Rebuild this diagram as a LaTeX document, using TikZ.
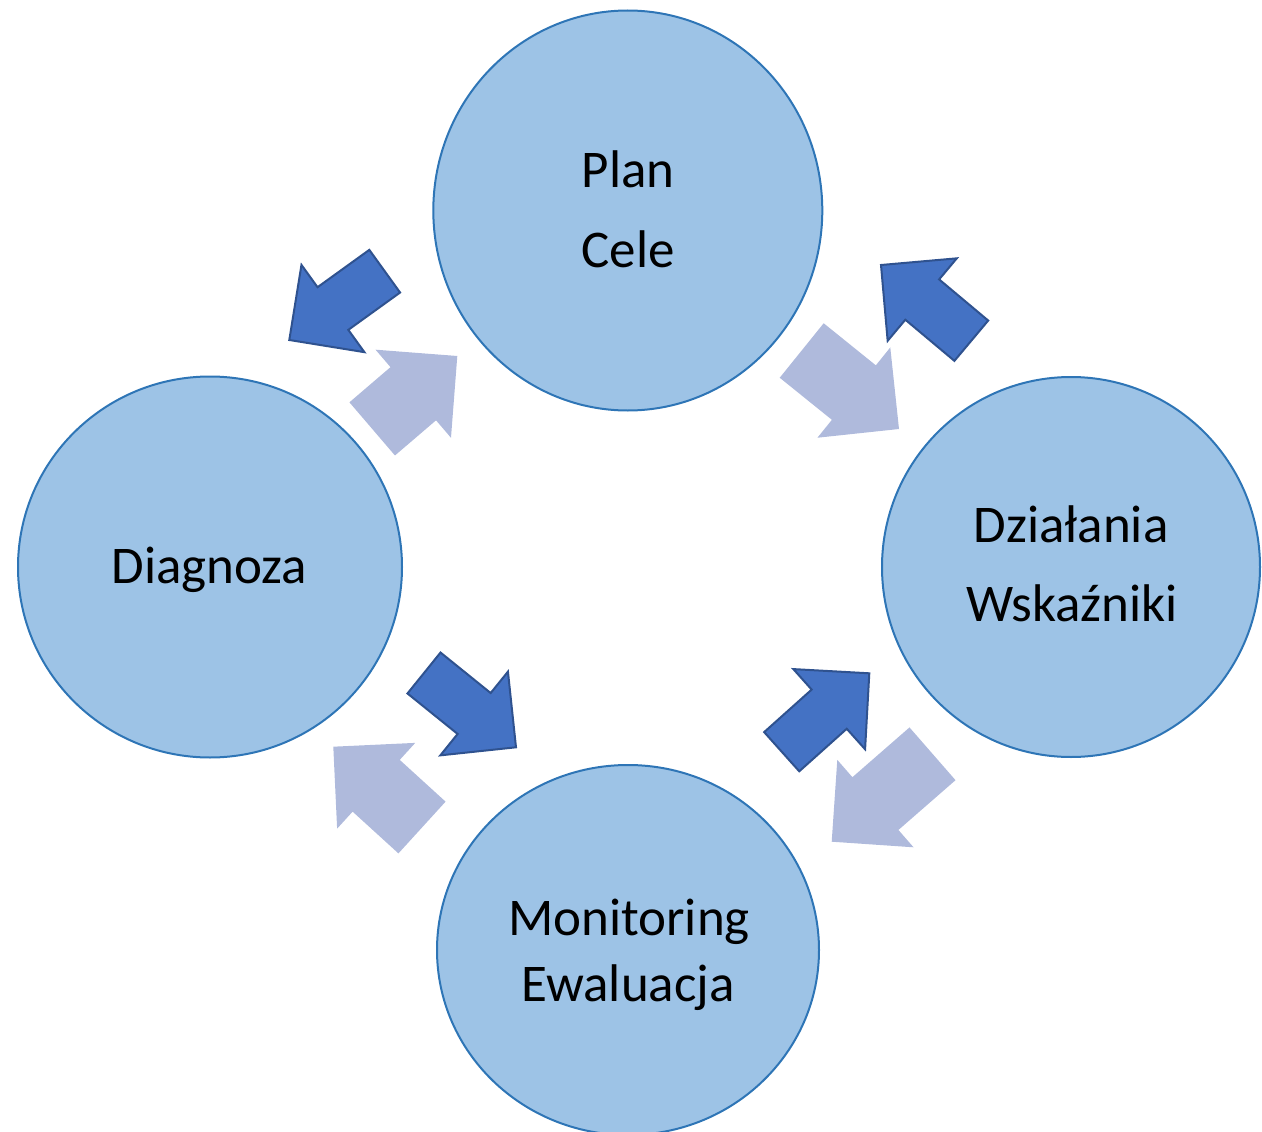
\documentclass[tikz,border=0pt]{standalone}
\usepackage{fontspec}
\setmainfont{Carlito}
\usetikzlibrary{calc,shapes.geometric}
\definecolor{circfill}{HTML}{9DC3E6}
\definecolor{circline}{HTML}{2E75B6}
\definecolor{darkfill}{HTML}{4472C4}
\definecolor{darkline}{HTML}{2F528F}
\definecolor{lightfill}{HTML}{AFBADC}
\newcommand\blockarrow[5]{%
  \coordinate (ban) at ($(#2)!#4!(#1)$);
  \path[#5] ($(#1)!#3!90:(#2)$) -- ($(ban)!#3!-90:(#1)$) -- ($(ban)!#4!-90:(#1)$) -- (#2)
    -- ($(ban)!#4!90:(#1)$) -- ($(ban)!#3!90:(#1)$) -- ($(#1)!#3!-90:(#2)$) -- cycle;}
\tikzset{
  bubble/.style={ellipse, draw=circline, fill=circfill, line width=2pt, inner sep=0pt},
  lbl/.style={anchor=base, inner sep=0pt, font=\fontsize{53}{60}\selectfont, text=black},
  darkarrow/.style={fill=darkfill, draw=darkline, line width=2pt, line join=miter},
  lightarrow/.style={fill=lightfill}
}
\begin{document}
\begin{tikzpicture}[x=1pt,y=-1pt]
\useasboundingbox (0,0) rectangle (1262,1132);
\clip (0,0) rectangle (1262,1132);
% circles
\node[bubble, minimum width=389pt, minimum height=400pt] (plan) at (627.8,210.5) {};
\node[bubble, minimum width=384pt, minimum height=381pt] (diag) at (210,567) {};
\node[bubble, minimum width=378pt, minimum height=380pt] (dzial) at (1071,567) {};
\node[bubble, minimum width=382pt, minimum height=370pt] (monit) at (628,950) {};
% texts
\node[lbl] (planA) at (628,187) {Plan};
\node[lbl] (planB) at (628,267) {Cele};
\node[lbl] (diagA) at (209.5,583) {Diagnoza};
\node[lbl] (dzialA) at (1071,542) {Działania};
\node[lbl] (dzialB) at (1072,621) {Wskaźniki};
\node[lbl] (monitA) at (629,935) {Monitoring};
\node[lbl] (monitB) at (628,1001) {Ewaluacja};
% arrow end points (back middle, tip)
\coordinate (d1b) at (384.7,271.2); \coordinate (d1t) at (289.3,340);
\coordinate (l1b) at (372.2,428.9); \coordinate (l1t) at (457.3,356);
\coordinate (d2b) at (971.3,340.7); \coordinate (d2t) at (881,265);
\coordinate (l2b) at (801.7,350.5); \coordinate (l2t) at (899,429);
\coordinate (d3b) at (424,673);     \coordinate (d3t) at (516,747.3);
\coordinate (l3b) at (422,827.5);   \coordinate (l3t) at (333.3,746.7);
\coordinate (d4b) at (781.7,751.7); \coordinate (d4t) at (869.3,673.3);
\coordinate (l4b) at (932.5,753.8); \coordinate (l4t) at (831.7,841.7);
% arrows
\blockarrow{d1b}{d1t}{26.3pt}{53.8pt}{darkarrow}
\blockarrow{d2b}{d2t}{26.3pt}{53.8pt}{darkarrow}
\blockarrow{d3b}{d3t}{26.3pt}{53.8pt}{darkarrow}
\blockarrow{d4b}{d4t}{26.3pt}{53.8pt}{darkarrow}
\blockarrow{l1b}{l1t}{35pt}{58pt}{lightarrow}
\blockarrow{l2b}{l2t}{35pt}{58pt}{lightarrow}
\blockarrow{l3b}{l3t}{35pt}{58pt}{lightarrow}
\blockarrow{l4b}{l4t}{35pt}{58pt}{lightarrow}
\end{tikzpicture}
\end{document}
